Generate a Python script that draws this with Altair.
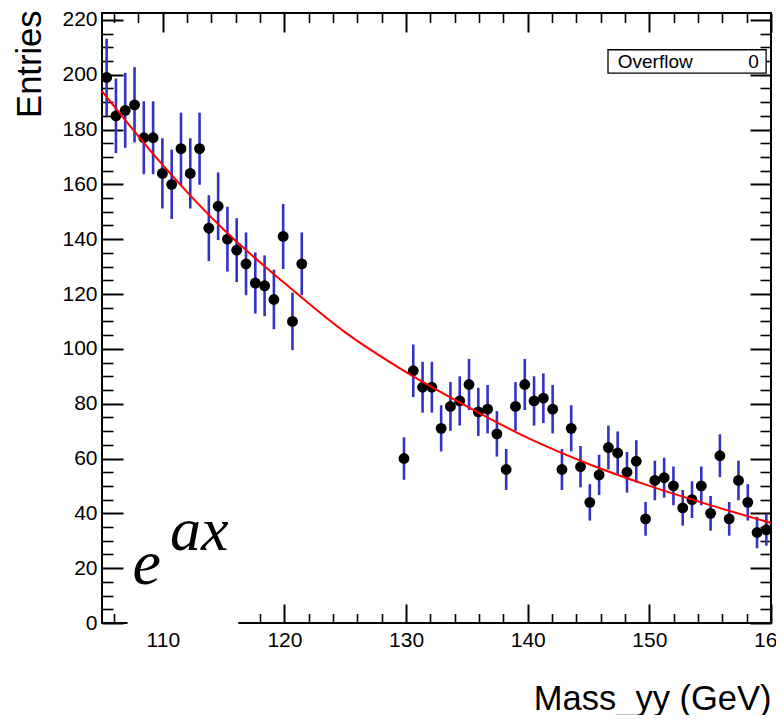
import altair as alt
import pandas as pd
import numpy as np

# ---------------- data ----------------
X_MIN, X_MAX, N_BINS = 105.0, 160.0, 72
Y_MAX = 222.5

LEFT_FIRST_BIN = 0
LEFT_COUNTS = [199, 185, 187, 189, 177, 177, 164, 160, 173, 164, 173,
               144, 152, 140, 136, 131, 124, 123, 118, 141, 110, 131]
RIGHT_FIRST_BIN = 32
RIGHT_COUNTS = [60, 92, 86, 86, 71, 79, 81, 87, 77, 78, 69, 56, 79, 87,
                81, 82, 78, 56, 71, 57, 44, 54, 64, 62, 55, 59, 38, 52,
                53, 50, 42, 45, 50, 40, 61, 38, 52, 44, 33, 34]

FIT_X = [105, 110, 115, 120, 125, 130, 135, 140, 145, 150, 155, 160]
FIT_Y = [194, 167, 143.5, 124, 106, 91.5, 79, 67.5, 58, 50, 43, 36.5]

X_TICKS = [110, 120, 130, 140, 150, 160]
X_MINOR = [106, 108, 112, 114, 116, 118, 122, 124, 126, 128, 132, 134, 136, 138,
           142, 144, 146, 148, 152, 154, 156, 158]
Y_TICKS = [0, 20, 40, 60, 80, 100, 120, 140, 160, 180, 200, 220]
Y_MINOR = [5, 10, 15, 25, 30, 35, 45, 50, 55, 65, 70, 75, 85, 90, 95, 105, 110, 115,
           125, 130, 135, 145, 150, 155, 165, 170, 175, 185, 190, 195, 205, 210, 215]

# annotations (data coordinates)
PATCH_BOX = {"x": [107.1], "x2": [116.2], "y": [-1.2], "y2": [48.0]}
FORMULA_BASE = {"x": [107.5], "y": [14.4], "t": ["e"]}
FORMULA_EXP = {"x": [110.6], "y": [26.8], "t": ["ax"]}
OVERFLOW_BOX = {"x": [146.6], "x2": [159.6], "y": [200.6], "y2": [209.1]}
OVERFLOW_LABEL = {"x": [147.4], "y": [204.8], "t": ["Overflow"]}
OVERFLOW_VALUE = {"x": [159.0], "y": [204.8], "t": ["0"]}

# ---------------- tables ----------------
bw = (X_MAX - X_MIN) / N_BINS
rows = []
for i, n in enumerate(LEFT_COUNTS):
    rows.append({"mass": X_MIN + (LEFT_FIRST_BIN + i + 0.5) * bw, "n": n})
for i, n in enumerate(RIGHT_COUNTS):
    rows.append({"mass": X_MIN + (RIGHT_FIRST_BIN + i + 0.5) * bw, "n": n})
pts = pd.DataFrame(rows)
fit = pd.DataFrame({"mass": FIT_X, "f": FIT_Y})

W, H = 669, 610
FONT = "Liberation Sans"
xs = alt.Scale(domain=[X_MIN, X_MAX], nice=False, zero=False)
ys = alt.Scale(domain=[0, Y_MAX], nice=False, zero=False)


def tick_axis(orient, offset, values, size, width):
    return alt.Axis(orient=orient, offset=offset, values=values, tickSize=size,
                    tickWidth=width, tickColor="black", ticks=True, labels=False,
                    domain=False, grid=False, title="")


x_label_axis = alt.Axis(orient="bottom", values=X_TICKS, ticks=False, tickSize=0,
                        domain=False, grid=False, labelFont=FONT, labelFontSize=21,
                        labelColor="black", labelPadding=6, labelFlush=False,
                        labelOverlap=False, format="d",
                        title="Mass_yy (GeV)", titleFont=FONT, titleFontSize=34.5,
                        titleFontWeight="normal", titleColor="black",
                        titleX=W, titleY=86, titleAlign="right",
                        titleBaseline="alphabetic", titleAnchor="end")
y_label_axis = alt.Axis(orient="left", values=Y_TICKS, ticks=False, tickSize=0,
                        domain=False, grid=False, labelFont=FONT, labelFontSize=21,
                        labelColor="black", labelPadding=5, labelFlush=False,
                        labelOverlap=False, format="d",
                        title="Entries", titleFont=FONT, titleFontSize=34.5,
                        titleFontWeight="normal", titleColor="black",
                        titleAngle=270, titleX=-62, titleY=-3, titleAlign="right",
                        titleBaseline="alphabetic", titleAnchor="end")

base = alt.Chart(pts)

errbars = base.transform_calculate(
    lo="datum.n - sqrt(datum.n)", hi="datum.n + sqrt(datum.n)"
).mark_rule(color="#3232c4", strokeWidth=2.6).encode(
    x=alt.X("mass:Q", scale=xs, axis=x_label_axis),
    y=alt.Y("lo:Q", scale=ys, axis=y_label_axis),
    y2="hi:Q",
)

ticks_a = base.mark_circle(opacity=0).encode(
    x=alt.X("mass:Q", scale=xs, axis=tick_axis("top", -H, X_TICKS, 19, 2)),
    y=alt.Y("n:Q", scale=ys, axis=tick_axis("right", -W, Y_TICKS, 21, 2)),
)
ticks_b = base.mark_circle(opacity=0).encode(
    x=alt.X("mass:Q", scale=xs, axis=tick_axis("top", -H, X_MINOR, 9.5, 1.6)),
    y=alt.Y("n:Q", scale=ys, axis=tick_axis("right", -W, Y_MINOR, 11, 1.6)),
)
ticks_c = base.mark_circle(opacity=0).encode(
    x=alt.X("mass:Q", scale=xs, axis=tick_axis("bottom", -H, X_TICKS, 19, 2)),
    y=alt.Y("n:Q", scale=ys, axis=tick_axis("left", -W, Y_TICKS, 21, 2)),
)
ticks_d = base.mark_circle(opacity=0).encode(
    x=alt.X("mass:Q", scale=xs, axis=tick_axis("bottom", -H, X_MINOR, 9.5, 1.6)),
    y=alt.Y("n:Q", scale=ys, axis=tick_axis("left", -W, Y_MINOR, 11, 1.6)),
)

points = base.mark_circle(size=118, color="black", opacity=1).encode(
    x=alt.X("mass:Q", scale=xs, axis=None),
    y=alt.Y("n:Q", scale=ys, axis=None),
)

fitline = alt.Chart(fit).mark_line(color="#ff0000", strokeWidth=2,
                                   interpolate="monotone").encode(
    x=alt.X("mass:Q", scale=xs, axis=None),
    y=alt.Y("f:Q", scale=ys, axis=None),
)

patch = alt.Chart(pd.DataFrame(PATCH_BOX)).mark_rect(fill="white").encode(
    x=alt.X("x:Q", scale=xs, axis=None), x2="x2:Q",
    y=alt.Y("y:Q", scale=ys, axis=None), y2="y2:Q",
)
f_base = alt.Chart(pd.DataFrame(FORMULA_BASE)).mark_text(
    font="Liberation Serif", fontStyle="italic", fontSize=64, align="left",
    baseline="alphabetic", color="black").encode(
    x=alt.X("x:Q", scale=xs, axis=None), y=alt.Y("y:Q", scale=ys, axis=None),
    text="t:N")
f_exp = alt.Chart(pd.DataFrame(FORMULA_EXP)).mark_text(
    font="Liberation Serif", fontStyle="italic", fontSize=62, align="left",
    baseline="alphabetic", color="black").encode(
    x=alt.X("x:Q", scale=xs, axis=None), y=alt.Y("y:Q", scale=ys, axis=None),
    text="t:N")

ov_box = alt.Chart(pd.DataFrame(OVERFLOW_BOX)).mark_rect(
    fill="white", stroke="black", strokeWidth=1.3).encode(
    x=alt.X("x:Q", scale=xs, axis=None), x2="x2:Q",
    y=alt.Y("y:Q", scale=ys, axis=None), y2="y2:Q",
)
ov_lab = alt.Chart(pd.DataFrame(OVERFLOW_LABEL)).mark_text(
    font=FONT, fontSize=19, align="left", baseline="middle", color="black").encode(
    x=alt.X("x:Q", scale=xs, axis=None), y=alt.Y("y:Q", scale=ys, axis=None),
    text="t:N")
ov_val = alt.Chart(pd.DataFrame(OVERFLOW_VALUE)).mark_text(
    font=FONT, fontSize=19, align="right", baseline="middle", color="black").encode(
    x=alt.X("x:Q", scale=xs, axis=None), y=alt.Y("y:Q", scale=ys, axis=None),
    text="t:N")

chart = alt.layer(
    errbars, ticks_a, ticks_b, ticks_c, ticks_d, points, fitline,
    patch, f_base, f_exp, ov_box, ov_lab, ov_val,
).resolve_scale(x="shared", y="shared").resolve_axis(
    x="independent", y="independent"
).properties(
    width=W, height=H,
    autosize=alt.AutoSizeParams(type="none"),
    padding={"left": 94, "top": 5, "right": 5, "bottom": 92},
    background="white",
).configure_view(stroke="black", strokeWidth=2)

chart.save("out.html", embed_options={"renderer": "svg", "actions": False})
